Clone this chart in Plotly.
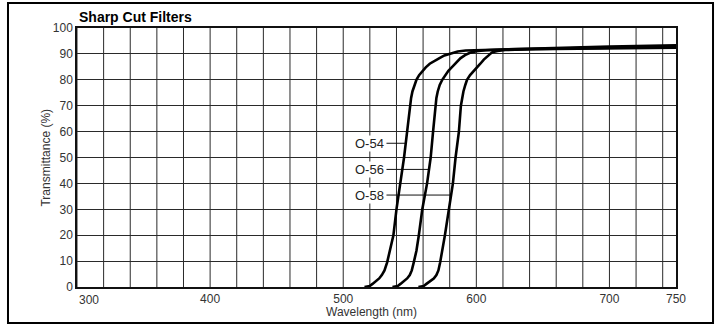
import numpy as np
import plotly.graph_objects as go

# ---- data ----
filters = ["O-54", "O-56", "O-58"]

wl_o54 = [516, 520, 522, 524, 527, 529, 531, 533, 535, 537.7, 540, 543, 545.7, 548, 550,
          551, 552, 553.5, 555, 557, 559.5, 562, 565, 568.5, 572, 576, 580.7, 586, 592, 610, 650, 700, 750]
tr_o54 = [0, 0.4, 1.2, 2.0, 3.3, 4.6, 6.4, 9.5, 14, 20, 30, 40, 50, 60, 70,
          73, 75.5, 78, 80, 81.8, 83.5, 84.8, 86.2, 87.4, 88.3, 89.4, 90.2, 90.9, 91.3, 91.6, 92.2, 92.8, 93.3]

wl_o56 = [537, 541, 543, 545, 548, 550, 551.5, 553, 555, 556.8, 559.4, 563, 565.7, 567.5, 569,
          570, 571, 572.5, 574.4, 576.5, 579, 581.5, 584.5, 588, 591.5, 595.6, 600, 607, 620, 650, 700, 750]
tr_o56 = [0, 0.4, 1.2, 2.0, 3.3, 4.6, 6.4, 9.5, 14, 20, 30, 40, 50, 60, 70,
          73, 75.5, 78, 80, 81.8, 83.5, 84.8, 86.6, 88.3, 89.5, 90.5, 91.0, 91.4, 91.7, 92.0, 92.4, 92.8]

wl_o58 = [556.5, 560.5, 562.5, 564.5, 568, 570, 571.5, 572.8, 574.5, 576.4, 579.4, 582.4, 584.4, 586.9, 588.4,
          589.3, 590.3, 591.7, 593, 595.3, 598, 600.5, 603, 605.6, 608.5, 611.8, 616, 621.8, 640, 700, 750]
tr_o58 = [0, 0.4, 1.2, 2.0, 3.3, 4.6, 6.4, 9.5, 14, 20, 30, 40, 50, 60, 70,
          73, 75.5, 78, 80, 81.8, 83.5, 84.8, 86.2, 87.8, 89.3, 90.6, 91.1, 91.5, 91.8, 92.1, 92.4]

label_tr = [55.5, 45.4, 35.5]   # transmittance where each label's leader meets its curve
label_wl = 531.5                # wavelength where labels end / leaders start

x_tickvals = [300, 400, 500, 600, 700, 750]
x_ticktext = ["", "400", "500", "600", "700", "750"]
first_tick_text = "300"
y_tickvals = list(range(0, 101, 10))
x_grid = list(range(300, 751, 20))

FONT = "Liberation Sans, Arial, Helvetica, sans-serif"

curves = [(wl_o54, tr_o54), (wl_o56, tr_o56), (wl_o58, tr_o58)]

fig = go.Figure()

# leader lines
for (wl, tr), ty in zip(curves, label_tr):
    cross = float(np.interp(ty, np.array(tr, float), np.array(wl, float)))
    fig.add_trace(go.Scatter(x=[label_wl + 1, cross], y=[ty, ty], mode="lines",
                             line=dict(color="#111", width=1), hoverinfo="skip",
                             showlegend=False))

for name, (wl, tr) in zip(filters, curves):
    fig.add_trace(go.Scatter(x=wl, y=tr, mode="lines", name=name,
                             line=dict(color="#000", width=2.6),
                             showlegend=False))

for name, ty in zip(filters, label_tr):
    fig.add_annotation(x=label_wl, y=ty, xref="x", yref="y", text=name,
                       xanchor="right", yanchor="middle", showarrow=False,
                       bgcolor="white", borderpad=0,
                       font=dict(family=FONT, size=13, color="#222"))

# first x tick label sits to the right of the axis corner, as in the reference
fig.add_annotation(x=x_tickvals[0], y=0, xref="x", yref="paper", text=first_tick_text,
                   xanchor="left", yanchor="top", yshift=-4, showarrow=False,
                   font=dict(family=FONT, size=12, color="#333"))

# title & axis titles
fig.add_annotation(x=0, y=1.042, xref="paper", yref="paper", text="<b>Sharp Cut Filters</b>",
                   xanchor="left", yanchor="middle", showarrow=False,
                   font=dict(family=FONT, size=14, color="#000"))
fig.add_annotation(x=-0.0534, y=0.5, xref="paper", yref="paper", text="Transmittance (%)",
                   textangle=-90, xanchor="center", yanchor="middle", showarrow=False,
                   font=dict(family=FONT, size=12, color="#333"))
fig.add_annotation(x=0.491, y=-0.097, xref="paper", yref="paper", text="Wavelength (nm)",
                   xanchor="center", yanchor="middle", showarrow=False,
                   font=dict(family=FONT, size=12, color="#333"))

# outer frame
fig.add_shape(type="rect", xref="paper", yref="paper", x0=-0.1152, x1=1.0618, y0=-0.139, y1=1.0965,
              line=dict(color="#000", width=2), layer="below")

fig.update_xaxes(range=[300, 750], tickvals=x_tickvals, ticktext=x_ticktext,
                 showgrid=False, zeroline=False, showline=True, mirror=True,
                 linecolor="#111", linewidth=1.5, ticks="",
                 tickfont=dict(family=FONT, size=12, color="#333"))
fig.update_yaxes(range=[0, 100], tickvals=y_tickvals, showgrid=True, gridcolor="#2a2a2a",
                 gridwidth=1, zeroline=False, showline=True, mirror=True,
                 linecolor="#111", linewidth=1.5, ticks="",
                 tickfont=dict(family=FONT, size=12, color="#333"))

for gx in x_grid:
    fig.add_shape(type="line", xref="x", yref="paper", x0=gx, x1=gx, y0=0, y1=1,
                  line=dict(color="#2a2a2a", width=1), layer="below")

fig.update_layout(width=718, height=328, margin=dict(l=77, r=42, t=28, b=41),
                  paper_bgcolor="white", plot_bgcolor="white", showlegend=False)

fig.write_html("out.html")
